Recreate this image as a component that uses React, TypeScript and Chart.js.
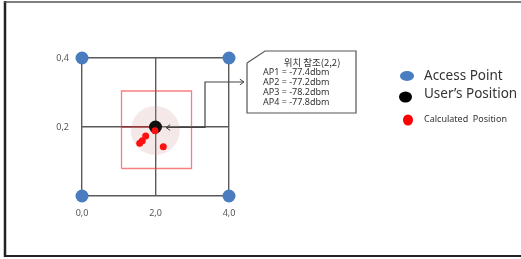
import React, { useEffect, useRef } from 'react';
import { Chart, registerables } from 'chart.js';

Chart.register(...registerables);

// ---- data ----
const xTickValues = [0, 2, 4];
const xTickLabels = ['0,0', '2,0', '4,0'];
const yTickValues = [0, 0.2, 0.4];
const yTickLabels = ['', '0,2', '0,4'];

const accessPoints = [
  { x: 0, y: 0 },
  { x: 4, y: 0 },
  { x: 0, y: 0.4 },
  { x: 4, y: 0.4 },
];
const userPosition = [{ x: 2, y: 0.2 }];
const calculatedPositions = [
  { x: 1.986, y: 0.189 },
  { x: 1.733, y: 0.174 },
  { x: 1.641, y: 0.16 },
  { x: 1.57, y: 0.153 },
  { x: 2.212, y: 0.143 },
];
const errorCircle = [{ x: 1.995, y: 0.19 }];
const errorBox = [
  { x: 1.075, y: 0.0797 },
  { x: 2.98, y: 0.0797 },
  { x: 2.98, y: 0.3043 },
  { x: 1.075, y: 0.3043 },
  { x: 1.075, y: 0.0797 },
];
const errorSegment = [
  { x: 1.075, y: 0.2 },
  { x: 1.96, y: 0.2 },
];
const connector = [
  { x: 4.408, y: 0.3304 },
  { x: 3.347, y: 0.3304 },
  { x: 3.347, y: 0.1985 },
  { x: 2.286, y: 0.1985 },
];
const calloutBox = [
  { x: 4.49, y: 0.3855 },
  { x: 4.98, y: 0.4203 },
  { x: 7.456, y: 0.4203 },
  { x: 7.456, y: 0.2406 },
  { x: 4.49, y: 0.2406 },
  { x: 4.49, y: 0.3855 },
];
const calloutTitle = '위치 참조(2,2)';
const calloutLines = ['AP1 = -77.4dbm', 'AP2 = -77.2dbm', 'AP3 = -78.2dbm', 'AP4 = -77.8dbm'];

const legendLabels = ['Access Point', 'User’s Position', 'Calculated  Position'];
const legendColors = ['#4a7dbf', '#000000', '#ff0000'];

const FONT = '"Noto Sans", "Noto Sans CJK KR", sans-serif';
const CJK = '"Noto Sans CJK KR", "Noto Sans", sans-serif';

const overlayPlugin = {
  id: 'overlay',
  afterDatasetsDraw(chart: any) {
    const ctx = chart.ctx;
    // arrowheads on connector
    const conn = chart.getDatasetMeta(2).data;
    const drawHead = (tip: any, from: any) => {
      const ang = Math.atan2(tip.y - from.y, tip.x - from.x);
      const L = 5;
      ctx.save();
      ctx.strokeStyle = '#444';
      ctx.lineWidth = 1;
      ctx.beginPath();
      ctx.moveTo(tip.x - L * Math.cos(ang - 0.6), tip.y - L * Math.sin(ang - 0.6));
      ctx.lineTo(tip.x, tip.y);
      ctx.lineTo(tip.x - L * Math.cos(ang + 0.6), tip.y - L * Math.sin(ang + 0.6));
      ctx.stroke();
      ctx.restore();
    };
    if (conn.length >= 2) {
      drawHead(conn[0], conn[1]);
      drawHead(conn[conn.length - 1], conn[conn.length - 2]);
    }
    // callout text
    const box = chart.getDatasetMeta(3).data;
    if (box.length >= 3) {
      const left = box[0].x;
      const top = box[1].y;
      ctx.save();
      ctx.fillStyle = '#333';
      ctx.textBaseline = 'middle';
      ctx.textAlign = 'center';
      ctx.font = `9.5px ${CJK}`;
      ctx.fillText(calloutTitle, left + 65, top + 11);
      ctx.textAlign = 'left';
      ctx.font = `9px ${FONT}`;
      calloutLines.forEach((t, i) => ctx.fillText(t, left + 16, top + 21.5 + i * 10));
      ctx.restore();
    }
  },
  afterDraw(chart: any) {
    const ctx = chart.ctx;
    // legend
    const items = [
      { cx: 407, cy: 76, rx: 7, ry: 5, ty: 76, size: 13.5 },
      { cx: 405.5, cy: 97, rx: 6.5, ry: 5.5, ty: 94.5, size: 13.5 },
      { cx: 408, cy: 120, rx: 5, ry: 5.5, ty: 119.5, size: 9 },
    ];
    ctx.save();
    items.forEach((it, i) => {
      ctx.fillStyle = legendColors[i];
      ctx.beginPath();
      ctx.ellipse(it.cx, it.cy, it.rx, it.ry, 0, 0, Math.PI * 2);
      ctx.fill();
      ctx.fillStyle = '#333';
      ctx.font = `${it.size}px ${FONT}`;
      ctx.textAlign = 'left';
      ctx.textBaseline = 'middle';
      ctx.fillText(legendLabels[i], 424, it.ty);
    });
    // frame
    ctx.strokeStyle = '#222';
    ctx.lineWidth = 2.5;
    ctx.beginPath();
    ctx.moveTo(5, 1);
    ctx.lineTo(5, 257);
    ctx.stroke();
    ctx.lineWidth = 2;
    ctx.beginPath();
    ctx.moveTo(4, 256);
    ctx.lineTo(521, 256);
    ctx.stroke();
    ctx.strokeStyle = '#555';
    ctx.lineWidth = 1.5;
    ctx.beginPath();
    ctx.moveTo(4, 2);
    ctx.lineTo(521, 2);
    ctx.stroke();
    ctx.restore();
  },
};

export default function App() {
  const ref = useRef<HTMLCanvasElement | null>(null);
  useEffect(() => {
    if (!ref.current) return;
    const chart = new Chart(ref.current, {
      type: 'scatter',
      data: {
        datasets: [
          {
            label: 'circle',
            data: errorCircle,
            pointRadius: 24.5,
            pointBackgroundColor: 'rgba(210,150,150,0.22)',
            pointBorderWidth: 0,
            order: 10,
            clip: false,
          } as any,
          {
            label: 'box',
            data: errorBox,
            showLine: true,
            borderColor: 'rgba(240,60,60,0.65)',
            borderWidth: 1.3,
            pointRadius: 0,
            order: 9,
            clip: false,
          },
          {
            label: 'connector',
            data: connector,
            showLine: true,
            borderColor: '#444',
            borderWidth: 1.2,
            pointRadius: 0,
            order: 8,
            clip: false,
          },
          {
            label: 'callout',
            data: calloutBox,
            showLine: true,
            borderColor: '#555',
            borderWidth: 1.2,
            pointRadius: 0,
            order: 7,
            clip: false,
          },
          {
            label: 'segment',
            data: errorSegment,
            showLine: true,
            borderColor: 'rgba(180,0,0,0.55)',
            borderWidth: 1.5,
            pointRadius: 0,
            order: 6,
            clip: false,
          },
          {
            label: 'Access Point',
            data: accessPoints,
            pointRadius: 6.5,
            pointBackgroundColor: legendColors[0],
            pointBorderWidth: 0,
            order: 5,
            clip: false,
          },
          {
            label: 'User',
            data: userPosition,
            pointRadius: 6.5,
            pointBackgroundColor: '#111',
            pointBorderWidth: 0,
            order: 4,
            clip: false,
          },
          {
            label: 'Calculated',
            data: calculatedPositions,
            pointRadius: 3.5,
            pointBackgroundColor: '#ff1010',
            pointBorderWidth: 0,
            order: 3,
            clip: false,
          },
        ],
      },
      options: {
        animation: false,
        responsive: false,
        devicePixelRatio: 1,
        layout: { autoPadding: false, padding: { left: 52, right: 292, top: 58, bottom: 33 } },
        plugins: { legend: { display: false }, tooltip: { enabled: false } },
        scales: {
          x: {
            type: 'linear',
            min: 0,
            max: 4,
            afterBuildTicks: (s: any) => {
              s.ticks = xTickValues.map((v) => ({ value: v }));
            },
            afterFit: (s: any) => {
              s.height = 30;
            },
            ticks: {
              callback: (_v: any, i: number) => xTickLabels[i],
              font: { size: 9, family: FONT },
              color: '#555',
              padding: 12,
              maxRotation: 0,
            },
            grid: { color: '#5a5a5a', lineWidth: 1.4, drawTicks: false },
            border: { display: false },
          },
          y: {
            type: 'linear',
            min: 0,
            max: 0.4,
            afterBuildTicks: (s: any) => {
              s.ticks = yTickValues.map((v) => ({ value: v }));
            },
            afterFit: (s: any) => {
              s.width = 30;
            },
            ticks: {
              callback: (_v: any, i: number) => yTickLabels[i],
              font: { size: 9, family: FONT },
              color: '#555',
              padding: 13,
            },
            grid: { color: '#5a5a5a', lineWidth: 1.4, drawTicks: false },
            border: { display: false },
          },
        },
      },
      plugins: [overlayPlugin],
    });
    return () => chart.destroy();
  }, []);
  return (
    <div style={{ position: 'fixed', left: 0, top: 0, width: 521, height: 259, background: '#fff' }}>
      <canvas ref={ref} width={521} height={259} style={{ display: 'block' }} />
    </div>
  );
}
